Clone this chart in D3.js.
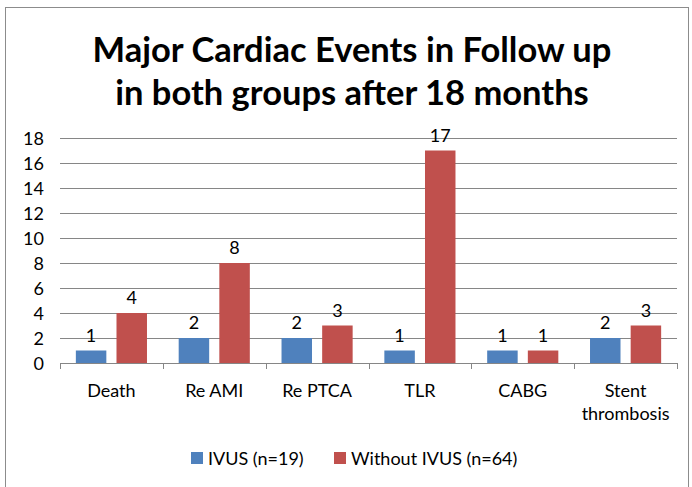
<!DOCTYPE html>
<html>
<head>
<meta charset="utf-8">
<script src="https://d3js.org/d3.v7.min.js"></script>
<style>
  body { margin: 0; background: #fff; }
  text { font-family: Lato, "Open Sans", sans-serif; fill: #000; }
</style>
</head>
<body>
<div id="grafico"></div>
<script>
// datos del grafico
var categorias = ["Death", "Re AMI", "Re PTCA", "TLR", "CABG", "Stent thrombosis"];
var ivus = [1, 2, 2, 1, 1, 2];
var sinIvus = [4, 8, 3, 17, 1, 3];
var series = ["IVUS (n=19)", "Without IVUS (n=64)"];
var ticksY = [0, 2, 4, 6, 8, 10, 12, 14, 16, 18];

var width = 692, height = 487;
var colores = ["#4F81BD", "#C0504D"];
var fs = 18;

var svg = d3.select("#grafico")
  .append("svg")
  .attr("width", width)
  .attr("height", height);

// marco
svg.append("rect")
  .attr("x", 5.5).attr("y", 7.5)
  .attr("width", 683).attr("height", 485)
  .attr("fill", "none")
  .attr("stroke", "#8c8c8c");

// titulo
var titulo = svg.append("text")
  .attr("text-anchor", "middle")
  .attr("font-weight", "bold")
  .attr("font-size", 34.5);
titulo.append("tspan").attr("x", 352).attr("y", 62).text("Major Cardiac Events in Follow up");
titulo.append("tspan").attr("x", 352).attr("y", 105).text("in both groups after 18 months");

var x0 = 60, x1 = 677, yTop = 138, yBase = 363;

var x = d3.scaleBand()
  .domain(categorias)
  .range([x0, x1]);

var xs = d3.scaleBand()
  .domain([0, 1])
  .range([0, x.bandwidth()])
  .paddingInner(0.25)
  .paddingOuter(0.39);

var y = d3.scaleLinear()
  .domain([0, 18])
  .range([yBase, yTop]);

// lineas de la cuadricula
svg.append("g")
  .selectAll("line")
  .data(ticksY.filter(function(d) { return d > 0; }))
  .enter()
  .append("line")
  .attr("x1", x0).attr("x2", x1)
  .attr("y1", function(d) { return y(d) + 0.5; })
  .attr("y2", function(d) { return y(d) + 0.5; })
  .attr("stroke", "#868686")
  .attr("stroke-width", 1);

// etiquetas del eje y
svg.append("g")
  .selectAll("text")
  .data(ticksY)
  .enter()
  .append("text")
  .attr("x", 44)
  .attr("y", function(d) { return y(d) + 6.5; })
  .attr("text-anchor", "end")
  .attr("font-size", fs)
  .text(function(d) { return d; });

// barras
var datos = [ivus, sinIvus];
var grupos = svg.append("g");
categorias.forEach(function(c, i) {
  datos.forEach(function(serie, s) {
    var v = serie[i];
    grupos.append("rect")
      .attr("x", x(c) + xs(s))
      .attr("y", y(v))
      .attr("width", xs.bandwidth())
      .attr("height", yBase - y(v))
      .attr("fill", colores[s]);
    grupos.append("text")
      .attr("x", x(c) + xs(s) + xs.bandwidth() / 2)
      .attr("y", y(v) - 9)
      .attr("text-anchor", "middle")
      .attr("font-size", fs)
      .text(v);
  });
});

// eje x
var ejeX = svg.append("g");
ejeX.append("line")
  .attr("x1", x0).attr("x2", x1)
  .attr("y1", yBase + 0.5).attr("y2", yBase + 0.5)
  .attr("stroke", "#868686");
ejeX.selectAll(".tick")
  .data(categorias.concat([null]))
  .enter()
  .append("line")
  .attr("x1", function(d, i) { return Math.round(x0 + i * x.bandwidth()) + 0.5; })
  .attr("x2", function(d, i) { return Math.round(x0 + i * x.bandwidth()) + 0.5; })
  .attr("y1", yBase).attr("y2", yBase + 6)
  .attr("stroke", "#868686");

ejeX.selectAll(".cat")
  .data(categorias)
  .enter()
  .append("text")
  .attr("text-anchor", "middle")
  .attr("font-size", fs)
  .each(function(d) {
    var partes = d === "Stent thrombosis" ? ["Stent", "thrombosis"] : [d];
    var t = d3.select(this);
    partes.forEach(function(p, k) {
      t.append("tspan")
        .attr("x", x(d) + x.bandwidth() / 2)
        .attr("y", 397 + k * 23)
        .text(p);
    });
  });

// leyenda
var leyX = [191, 334];
series.forEach(function(nombre, s) {
  svg.append("rect")
    .attr("x", leyX[s]).attr("y", 452)
    .attr("width", 12).attr("height", 12)
    .attr("fill", colores[s]);
  svg.append("text")
    .attr("x", leyX[s] + 17).attr("y", 465)
    .attr("font-size", fs)
    .text(nombre);
});
</script>
</body>
</html>
